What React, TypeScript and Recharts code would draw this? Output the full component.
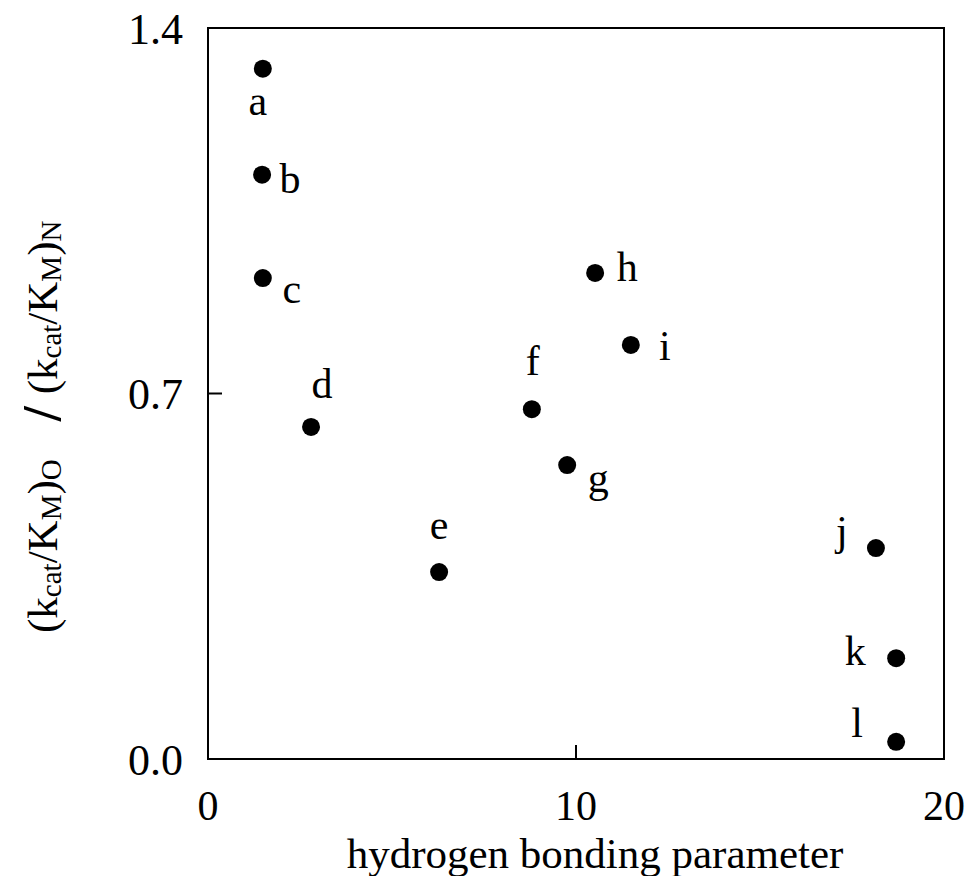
import React from 'react';
import { ScatterChart, Scatter, XAxis, YAxis, ReferenceArea, LabelList, Label } from 'recharts';

const names = ['a', 'b', 'c', 'd', 'e', 'f', 'g', 'h', 'i', 'j', 'k', 'l'];
const hbParam = [1.49, 1.47, 1.49, 2.8, 6.28, 8.8, 9.76, 10.52, 11.49, 18.15, 18.7, 18.7];
const ratio = [1.322, 1.119, 0.921, 0.636, 0.358, 0.67, 0.563, 0.931, 0.793, 0.404, 0.193, 0.033];
const xTicks = [0, 10, 20];
const yTicks = [0, 0.7, 1.4];

const data = names.map((n, i) => ({ name: n, x: hbParam[i], y: ratio[i] }));

const FONT = '"Liberation Serif", "Times New Roman", serif';

// label placement relative to the point (center x, baseline y)
const labelPlace: Record<string, [number, number]> = {
  a: [-5, 46], b: [28, 18], c: [29, 25], d: [11, -29], e: [0, -33], f: [1, -34],
  g: [31, 27], h: [32, 8], i: [34, 15], j: [-34, -3], k: [-41, 7], l: [-39, -5],
};

const Dot = (props: any) => {
  const { cx, cy } = props;
  return <circle cx={cx} cy={cy} r={9} fill="#000" />;
};

const PointLabel = (props: any) => {
  const { x, y, width, height, value } = props;
  const cx = x + (width || 0) / 2;
  const cy = y + (height || 0) / 2;
  const p = labelPlace[value] || [0, 0];
  return (
    <text x={cx + p[0]} y={cy + p[1]} textAnchor="middle" fontFamily={FONT} fontSize={42} fill="#000">
      {value}
    </text>
  );
};

const XLabel = (props: any) => {
  const vb = props.viewBox || { x: 208, y: 759, width: 736, height: 117 };
  return (
    <text x={vb.x + vb.width / 2 + 19} y={868} textAnchor="middle" fontFamily={FONT} fontSize={43} fill="#000">
      hydrogen bonding parameter
    </text>
  );
};

const YLabel = (props: any) => {
  const vb = props.viewBox || { x: 0, y: 28, width: 208, height: 731 };
  const cx = vb.x + 42;
  const cy = 633;
  const sub = 29;
  const d = 9;
  return (
    <text
      x={cx}
      y={cy}
      transform={`rotate(-90, ${cx}, ${cy})`}
      textAnchor="start"
      dominantBaseline="central"
      fontFamily={FONT}
      fontSize={43}
      fill="#000"
    >
      <tspan>(k</tspan>
      <tspan fontSize={sub} dy={d}>cat</tspan>
      <tspan dy={-d}>/K</tspan>
      <tspan fontSize={sub} dy={d}>M</tspan>
      <tspan dy={-d}>)</tspan>
      <tspan fontSize={sub} dy={d}>O</tspan>
      <tspan dy={-d} dx={38} fontSize={54} fontWeight="bold">/</tspan>
      <tspan dx={12}>(k</tspan>
      <tspan fontSize={sub} dy={d}>cat</tspan>
      <tspan dy={-d}>/K</tspan>
      <tspan fontSize={sub} dy={d}>M</tspan>
      <tspan dy={-d}>)</tspan>
      <tspan fontSize={sub} dy={d}>N</tspan>
    </text>
  );
};

export default function App() {
  return (
    <div style={{ position: 'absolute', left: 0, top: 0, width: 970, height: 876, background: '#fff' }}>
      <ScatterChart width={970} height={876} margin={{ top: 28, right: 26, left: 0, bottom: 0 }}>
        <XAxis
          type="number"
          dataKey="x"
          domain={[0, 20]}
          ticks={xTicks}
          height={117}
          axisLine={{ stroke: '#000', strokeWidth: 2 }}
          tickLine={{ stroke: '#000', strokeWidth: 2 }}
          tickSize={-14}
          tickMargin={45}
          tick={{ fill: '#000', fontSize: 42, fontFamily: FONT }}
          allowDataOverflow
        >
          <Label content={<XLabel />} />
        </XAxis>
        <YAxis
          type="number"
          dataKey="y"
          domain={[0, 1.4]}
          ticks={yTicks}
          width={208}
          axisLine={{ stroke: '#000', strokeWidth: 2 }}
          tickLine={{ stroke: '#000', strokeWidth: 2 }}
          tickSize={-14}
          tickMargin={39}
          tickFormatter={(v: number) => v.toFixed(1)}
          tick={{ fill: '#000', fontSize: 44, fontFamily: FONT }}
          allowDataOverflow
        >
          <Label content={<YLabel />} />
        </YAxis>
        <ReferenceArea x1={0} x2={20} y1={0} y2={1.4} fill="none" stroke="#000" strokeWidth={2} fillOpacity={0} />
        <Scatter data={data} shape={<Dot />} isAnimationActive={false}>
          <LabelList dataKey="name" content={<PointLabel />} />
        </Scatter>
      </ScatterChart>
    </div>
  );
}
